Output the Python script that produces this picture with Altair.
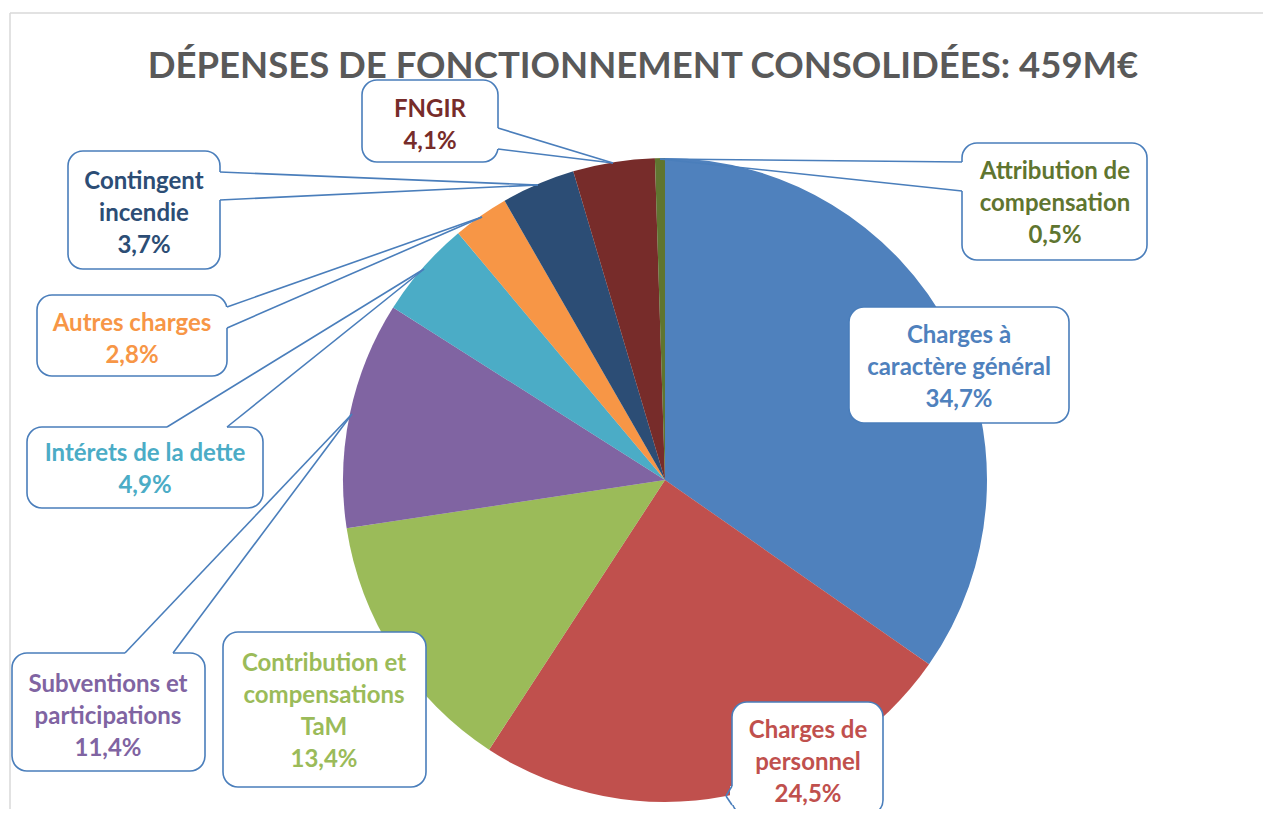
import altair as alt
import pandas as pd
import math

# ---- data ----
categories = ["Charges à caractère général", "Charges de personnel",
              "Contribution et compensations TaM", "Subventions et participations",
              "Intérets de la dette", "Autres charges", "Contingent incendie",
              "FNGIR", "Attribution de compensation"]
values = [34.7, 24.5, 13.4, 11.4, 4.9, 2.8, 3.7, 4.1, 0.5]
label_lines = [["Charges à", "caractère général"], ["Charges de", "personnel"],
               ["Contribution et", "compensations", "TaM"],
               ["Subventions et", "participations"], ["Intérets de la dette"],
               ["Autres charges"], ["Contingent", "incendie"], ["FNGIR"],
               ["Attribution de", "compensation"]]
title_text = "DÉPENSES DE FONCTIONNEMENT CONSOLIDÉES: 459M€"

# ---- styles ----
slice_colors = ["#4F81BD", "#C0504D", "#9BBB59", "#8064A2", "#4BACC6",
                "#F79646", "#2C4D75", "#772C2A", "#5F7530"]
border_color = "#4A7EBB"
FONT = "Lato"

# ---- layout (page pixels) ----
W, H = 1255, 801
cx, cy, R = 665, 480, 322
# callout boxes: x0, x1, y0, y1
boxes = [(849, 1069, 307, 423), (732, 883, 702, 815), (223, 426, 632, 787),
         (12, 205, 653, 771), (27, 263, 427, 508), (37, 227, 295, 376),
         (68, 220, 151, 269), (362, 498, 80, 162), (962, 1147, 143, 260)]
# label anchor: centre x, first-line baseline y
label_pos = [(959, 343), (808, 738), (324, 671), (108, 692), (145, 461),
             (132, 331), (144, 189), (430, 117), (1055, 179)]
line_h = 32
# pointers: base1, base2, tip  (None = no pointer)
pointers = [None,
            ((732, 786), (732, 805), (726, 796)),
            None,
            ((125, 653), (173, 653), (352, 414)),
            ((167, 427), (227, 427), (424, 269)),
            ((227, 307), (227, 328), (482, 217)),
            ((220, 172), (220, 200), (538, 185)),
            ((498, 128), (498, 149), (613, 163)),
            ((962, 162), (962, 191), (660, 159))]
shadow_r = [330, 327, 324]

xs = alt.Scale(domain=[8, 8 + W], range=[0, W], nice=False, zero=False)
ys = alt.Scale(domain=[8, 8 + H], range=[0, H], nice=False, zero=False)

def fmt(v):
    return f"{v:.1f}".replace(".", ",") + "%"

pie_df = pd.DataFrame({"cat": categories, "val": values,
                       "idx": list(range(len(values)))})

# soft shadow glow around the pie
shadow_df = pd.DataFrame({"x": [cx - 2] * 3, "y": [cy - 1] * 3,
                          "s": [math.pi * r * r for r in shadow_r]})
shadow = alt.Chart(shadow_df).mark_point(shape="circle", filled=True,
                                         color="#000000", opacity=0.035,
                                         strokeWidth=0).encode(
    x=alt.X("x:Q", scale=xs, axis=None), y=alt.Y("y:Q", scale=ys, axis=None),
    size=alt.Size("s:Q", scale=None, legend=None))

pie = alt.Chart(pie_df).mark_arc(radius=R).encode(
    theta=alt.Theta("val:Q", stack=True),
    order=alt.Order("idx:Q"),
    color=alt.Color("cat:N", scale=alt.Scale(domain=categories, range=slice_colors),
                    legend=None),
    x=alt.value(cx - 8), y=alt.value(cy - 8))

# frame of chart area
frame_df = pd.DataFrame({"x": [10, 10], "x2": [1290, 10], "y": [13, 13], "y2": [13, 840]})
frame = alt.Chart(frame_df).mark_rule(color="#D9D9D9", strokeWidth=1.5).encode(
    x=alt.X("x:Q", scale=xs, axis=None), x2="x2:Q",
    y=alt.Y("y:Q", scale=ys, axis=None), y2="y2:Q")

box_df = pd.DataFrame({"x": [b[0] for b in boxes], "x2": [b[1] for b in boxes],
                       "y": [b[2] for b in boxes], "y2": [b[3] for b in boxes]})
box_layer = alt.Chart(box_df).mark_rect(cornerRadius=15, fill="white",
                                        stroke=border_color, strokeWidth=1.6).encode(
    x=alt.X("x:Q", scale=xs, axis=None), x2="x2:Q",
    y=alt.Y("y:Q", scale=ys, axis=None), y2="y2:Q")

gap_rows, ptr_rows = [], []
for p in pointers:
    if p is None:
        continue
    b1, b2, t = p
    gap_rows.append({"x": b1[0], "y": b1[1], "x2": b2[0], "y2": b2[1]})
    ptr_rows.append({"x": b1[0], "y": b1[1], "x2": t[0], "y2": t[1]})
    ptr_rows.append({"x": b2[0], "y": b2[1], "x2": t[0], "y2": t[1]})

gap = alt.Chart(pd.DataFrame(gap_rows)).mark_rule(color="white", strokeWidth=4).encode(
    x=alt.X("x:Q", scale=xs, axis=None), x2="x2:Q",
    y=alt.Y("y:Q", scale=ys, axis=None), y2="y2:Q")
ptr = alt.Chart(pd.DataFrame(ptr_rows)).mark_rule(color=border_color, strokeWidth=1.6).encode(
    x=alt.X("x:Q", scale=xs, axis=None), x2="x2:Q",
    y=alt.Y("y:Q", scale=ys, axis=None), y2="y2:Q")

lab_df = pd.DataFrame({
    "cat": categories,
    "txt": ["\n".join(l + [fmt(v)]) for l, v in zip(label_lines, values)],
    "x": [p[0] for p in label_pos], "y": [p[1] for p in label_pos]})
labels = alt.Chart(lab_df).mark_text(font=FONT, fontWeight="bold", fontSize=24,
                                     align="center", baseline="alphabetic",
                                     lineBreak="\n", lineHeight=line_h).encode(
    x=alt.X("x:Q", scale=xs, axis=None), y=alt.Y("y:Q", scale=ys, axis=None),
    text="txt:N",
    color=alt.Color("cat:N", scale=alt.Scale(domain=categories, range=slice_colors),
                    legend=None))

title_df = pd.DataFrame({"t": [title_text], "x": [643], "y": [78]})
title = alt.Chart(title_df).mark_text(font=FONT, fontWeight="bold", fontSize=36.5,
                                      align="center", baseline="alphabetic",
                                      color="#595959").encode(
    x=alt.X("x:Q", scale=xs, axis=None), y=alt.Y("y:Q", scale=ys, axis=None),
    text="t:N")

chart = alt.layer(frame, shadow, pie, box_layer, gap, ptr, labels, title).properties(
    width=W, height=H, padding=0, background="white",
    autosize=alt.AutoSizeParams(type="none")
).configure_view(stroke=None)

chart.save("out.html", embed_options={"renderer": "svg", "actions": False})
